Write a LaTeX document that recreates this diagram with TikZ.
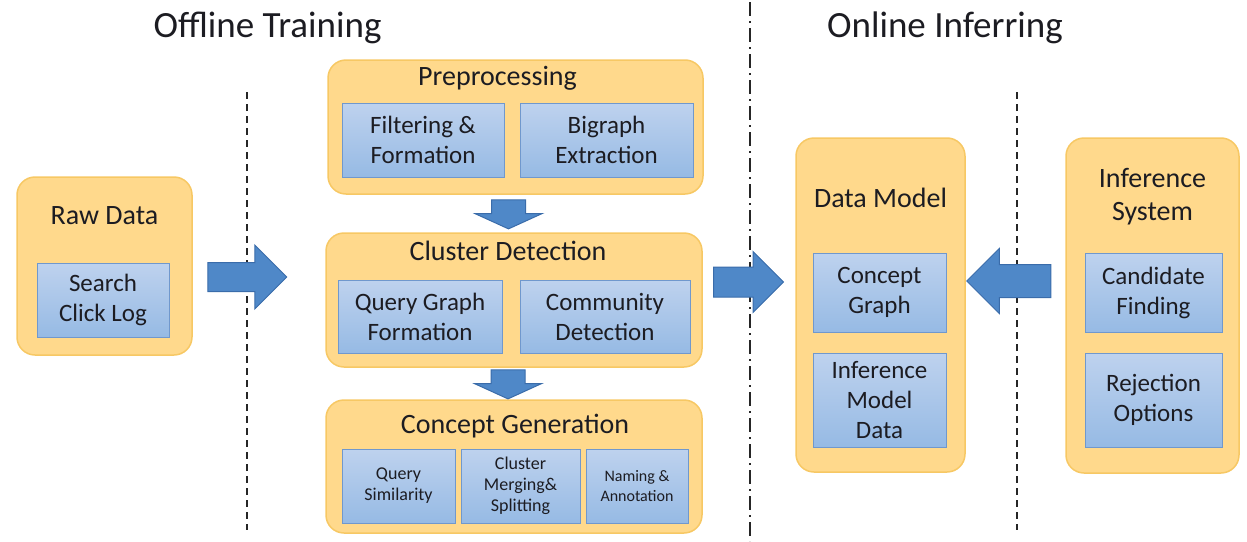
\documentclass[tikz,border=0pt]{standalone}
\usepackage{fontspec}
\setmainfont{Carlito}
\usetikzlibrary{shapes.arrows}
\definecolor{ofill}{RGB}{255,217,140}
\definecolor{odraw}{RGB}{247,200,100}
\definecolor{btop}{RGB}{190,210,238}
\definecolor{bbot}{RGB}{150,186,228}
\definecolor{bdraw}{RGB}{112,152,205}
\definecolor{afill}{RGB}{79,136,200}
\definecolor{adraw}{RGB}{58,108,170}
\definecolor{tcol}{RGB}{28,28,34}
\begin{document}
\begin{tikzpicture}[x=1pt,y=-1pt,
  obox/.style={draw=odraw, line width=1.5pt, fill=ofill, rounded corners=18pt, inner sep=0pt},
  bbox/.style={draw=bdraw, line width=1pt, top color=btop, bottom color=bbot, inner sep=1pt, align=center, text=tcol, font=\fontsize{25}{30}\selectfont},
  bsmall/.style={bbox, font=\fontsize{18}{21}\selectfont},
  btiny/.style={bbox, font=\fontsize{16}{20}\selectfont},
  ttl/.style={anchor=base, text=tcol, font=\fontsize{28}{33}\selectfont},
  bigttl/.style={anchor=base, text=tcol, font=\fontsize{37}{44}\selectfont},
  barrow/.style={single arrow, draw=adraw, fill=afill, line width=1pt, inner xsep=0pt, single arrow tip angle=90},
  sep/.style={line width=1.6pt, black!85}
]
\useasboundingbox (0,0) rectangle (1247,541);

% section titles
\node[bigttl] (toff) at (267.5,37) {Offline Training};
\node[bigttl] (ton) at (945,37) {Online Inferring};

% separators
\coordinate (s1a) at (247,92);  \coordinate (s1b) at (247,530);
\coordinate (s2a) at (750,2);   \coordinate (s2b) at (750,541);
\coordinate (s3a) at (1017,92); \coordinate (s3b) at (1017,530);
\draw[sep, dash pattern=on 7pt off 5pt] (s1a) -- (s1b);
\draw[sep, dash pattern=on 14pt off 5pt on 2pt off 5pt] (s2a) -- (s2b);
\draw[sep, dash pattern=on 7pt off 5pt] (s3a) -- (s3b);

% Raw data
\node[obox, minimum width=175, minimum height=178] (raw) at (104.5,266) {};
\node[ttl] (rawt) at (104.5,224) {Raw Data};
\node[bbox, minimum width=132, minimum height=74] (rawin) at (103,300) {Search\\Click Log};

% Preprocessing
\node[obox, minimum width=375, minimum height=134] (pre) at (515.5,127) {};
\node[ttl] (pret) at (497.5,85) {Preprocessing};
\node[bbox, minimum width=162, minimum height=74] (pre1) at (423,140) {Filtering \&\\Formation};
\node[bbox, minimum width=173, minimum height=74] (pre2) at (606.5,140) {Bigraph\\Extraction};

% Cluster detection
\node[obox, minimum width=376, minimum height=134] (clu) at (514,300) {};
\node[ttl] (clut) at (508,260) {Cluster Detection};
\node[bbox, minimum width=164, minimum height=73] (clu1) at (420,316.5) {Query Graph\\Formation};
\node[bbox, minimum width=170, minimum height=73] (clu2) at (605,316.5) {Community\\Detection};

% Concept generation
\node[obox, minimum width=376, minimum height=133] (con) at (514,466.5) {};
\node[ttl] (cont) at (515,433) {Concept Generation};
\node[bsmall, minimum width=113, minimum height=74] (con1) at (398.5,486) {Query\\Similarity};
\node[bsmall, minimum width=119, minimum height=74] (con2) at (520.5,486) {Cluster\\Merging\&\\Splitting};
\node[btiny, minimum width=102, minimum height=74] (con3) at (637,486) {Naming \&\\Annotation};

% Data model
\node[obox, minimum width=169, minimum height=334] (dm) at (880.5,305) {};
\node[ttl] (dmt) at (880.5,207) {Data Model};
\node[bbox, minimum width=133, minimum height=79] (dm1) at (879.5,292.5) {Concept\\Graph};
\node[bbox, minimum width=133, minimum height=94] (dm2) at (879.5,400) {Inference\\Model\\Data};

% Inference system
\node[obox, minimum width=173, minimum height=335] (inf) at (1152.5,305.5) {};
\node[text=tcol, align=center, font=\fontsize{28}{33}\selectfont] (inft) at (1152.5,197) {Inference\\System};
\node[bbox, minimum width=137, minimum height=79] (inf1) at (1153.5,292.5) {Candidate\\Finding};
\node[bbox, minimum width=137, minimum height=94] (inf2) at (1153.5,400) {Rejection\\Options};

% block arrows
\node[barrow, minimum height=79, inner ysep=14pt, single arrow head extend=17.5pt] (a1) at (240,277) {};
\node[barrow, minimum height=70, inner ysep=14.5pt, single arrow head extend=15.5pt] (a2) at (741,282) {};
\node[barrow, minimum height=84, inner ysep=16pt, single arrow head extend=16pt, rotate=180] (a3) at (1017,281) {};
\node[barrow, minimum height=29, inner ysep=16.5pt, single arrow head extend=16.5pt, single arrow tip angle=131, rotate=-90] (a4) at (508.5,210.5) {};
\node[barrow, minimum height=29, inner ysep=16.5pt, single arrow head extend=16.5pt, single arrow tip angle=131, rotate=-90] (a5) at (508,380.5) {};
\end{tikzpicture}
\end{document}
